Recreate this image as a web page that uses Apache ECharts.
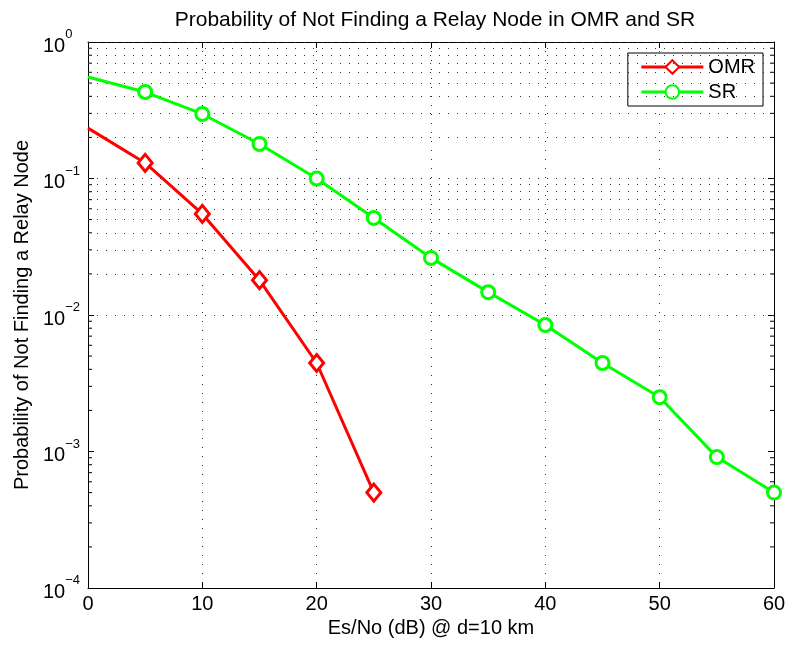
<!DOCTYPE html>
<html><head><meta charset="utf-8">
<script src="https://cdn.jsdelivr.net/npm/echarts@6/dist/echarts.min.js"></script>
<style>html,body{margin:0;padding:0;background:#fff}#c{width:789px;height:647px}</style>
</head><body><div id="c"></div>
<script>
const xValues = [0, 5, 10, 15, 20, 25, 30, 35, 40, 45, 50, 55, 60];
const omrValues = [0.234, 0.13, 0.055, 0.018, 0.00445, 0.0005];
const srValues = [0.554, 0.43, 0.297, 0.179, 0.1, 0.0514, 0.0262, 0.0147, 0.00845, 0.00445, 0.0025, 0.00091, 0.0005];
const xTicks = [0, 10, 20, 30, 40, 50, 60];
const yExponents = [0, -1, -2, -3, -4];

const FONT = 'Liberation Sans';
// gridline positions (axis decoration): each decade 1..9
const gridVals = [];
for (let e = -4; e <= -1; e++) for (let k = 1; k <= 9; k++) gridVals.push(k * Math.pow(10, e));
gridVals.push(1);
const minorVals = gridVals.filter(v => { const m = v / Math.pow(10, Math.floor(Math.log10(v) + 1e-9)); return Math.abs(m - 1) > 1e-6; });

const chart = echarts.init(document.getElementById('c'));
const sup = {b: {fontSize: 20, fontFamily: FONT, color: '#000', verticalAlign: 'bottom'},
             s: {fontSize: 13, fontFamily: FONT, color: '#000', verticalAlign: 'bottom', padding: [0, 0, 15, 0]}};

function pts(vals) {
  return vals.map((v, i) => i === 0 ? {value: [xValues[i], v], symbol: 'none'} : [xValues[i], v]);
}

chart.setOption({
  animation: false,
  title: {text: 'Probability of Not Finding a Relay Node in OMR and SR', left: 430, textAlign: 'center', top: 5,
    textStyle: {fontFamily: FONT, fontSize: 21, fontWeight: 'normal', color: '#000'}},
  grid: {left: 88, top: 42, right: 15, bottom: 59},
  legend: {right: 26, top: 53, orient: 'vertical', itemWidth: 62, itemHeight: 17, itemGap: 5,
    borderColor: '#000', borderWidth: 1, padding: [4, 8, 4, 12], backgroundColor: '#fff',
    lineStyle: {width: 3},
    textStyle: {fontFamily: FONT, fontSize: 20, color: '#000'},
    data: ['OMR', 'SR']},
  xAxis: [{type: 'value', min: 0, max: 60, interval: 10, position: 'bottom',
    name: 'Es/No (dB) @ d=10 km', nameLocation: 'middle', nameGap: 28,
    nameTextStyle: {fontFamily: FONT, fontSize: 20, color: '#000'},
    axisLine: {show: true, onZero: false, lineStyle: {color: '#000', width: 1}},
    axisTick: {inside: true, length: 6, lineStyle: {color: '#000'}},
    axisLabel: {fontFamily: FONT, fontSize: 20, color: '#000', margin: 6},
    splitLine: {show: true, lineStyle: {color: '#333', type: [1, 8], width: 1}}},
   {type: 'value', min: 0, max: 60, interval: 10, position: 'top',
    axisLine: {show: true, onZero: false, lineStyle: {color: '#000'}},
    axisTick: {inside: true, length: 6, lineStyle: {color: '#000'}},
    axisLabel: {show: false}, splitLine: {show: false}}],
  yAxis: [{type: 'log', min: 1e-4, max: 1, logBase: 10, position: 'left',
    name: 'Probability of Not Finding a Relay Node', nameLocation: 'middle', nameGap: 56,
    nameTextStyle: {fontFamily: FONT, fontSize: 20, color: '#000'},
    axisLine: {show: true, onZero: false, lineStyle: {color: '#000'}},
    axisTick: {inside: true, length: 6, lineStyle: {color: '#000'}},
    axisLabel: {margin: 45, align: 'left', formatter: v => { const e = Math.round(Math.log10(v)); return '{b|10}{s|' + (e < 0 ? '\u2212' + (-e) : e) + '}'; }, rich: sup},
    splitLine: {show: false}},
   {type: 'log', min: 1e-4, max: 1, logBase: 10, position: 'right',
    axisLine: {show: true, onZero: false, lineStyle: {color: '#000'}},
    axisTick: {inside: true, length: 6, lineStyle: {color: '#000'}},
    axisLabel: {show: false}, splitLine: {show: false}}],
  series: [
    {type: 'line', name: 'grid', silent: true, data: [], symbol: 'none',
     markLine: {silent: true, symbol: 'none', label: {show: false},
       lineStyle: {color: '#333', type: [1, 8], width: 1},
       data: gridVals.map(v => ({yAxis: v}))}},
    {type: 'custom', name: 'minorTicks', silent: true, coordinateSystem: 'cartesian2d',
     data: minorVals.map(v => [0, v]),
     renderItem: (params, api) => {
       const p = api.coord([0, api.value(1)]);
       const cs = params.coordSys;
       return {type: 'group', children: [
         {type: 'line', shape: {x1: cs.x, y1: p[1], x2: cs.x + 4, y2: p[1]}, style: {stroke: '#000', lineWidth: 1}},
         {type: 'line', shape: {x1: cs.x + cs.width, y1: p[1], x2: cs.x + cs.width - 4, y2: p[1]}, style: {stroke: '#000', lineWidth: 1}}
       ]};
     }},
    {type: 'line', name: 'OMR', data: pts(omrValues),
     symbol: 'diamond', symbolSize: [14, 17], lineStyle: {color: '#ff0000', width: 3},
     itemStyle: {color: '#fff', borderColor: '#ff0000', borderWidth: 3}, color: '#ff0000', z: 5},
    {type: 'line', name: 'SR', data: pts(srValues),
     symbol: 'circle', symbolSize: 13, lineStyle: {color: '#00ff00', width: 3},
     itemStyle: {color: '#fff', borderColor: '#00ff00', borderWidth: 3}, color: '#00ff00', z: 5}
  ]
});
</script></body></html>
